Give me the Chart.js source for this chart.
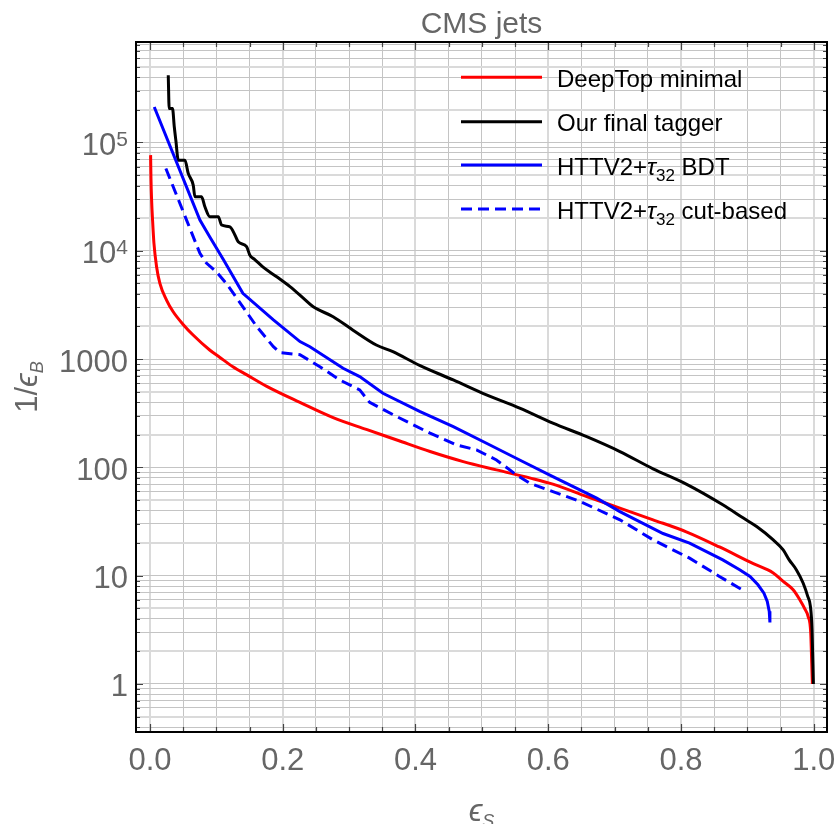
<!DOCTYPE html>
<html><head><meta charset="utf-8">
<script src="https://cdn.jsdelivr.net/npm/chart.js@4"></script>
<style>html,body{margin:0;padding:0;background:#fff}canvas{display:block}</style>
</head><body>
<canvas id="c" width="839" height="824"></canvas>
<script>
// ---- data (signal efficiency eps_S, background rejection 1/eps_B) ----
const deepTopX = [0.001, 0.0015, 0.0025, 0.004, 0.006, 0.010, 0.015, 0.025, 0.035, 0.050, 0.065, 0.090, 0.105, 0.125, 0.146, 0.176, 0.226, 0.276, 0.326, 0.372, 0.422, 0.472, 0.522, 0.572, 0.607, 0.658, 0.708, 0.758, 0.808, 0.858, 0.909, 0.939, 0.954, 0.969, 0.979, 0.986, 0.9915, 0.9955, 0.997, 0.998];
const deepTopY = [76400, 48000, 29400, 19000, 11800, 7130, 5000, 3510, 2735, 2090, 1667, 1213, 1040, 850, 715, 560, 398, 288, 224, 179, 140, 113, 94.8, 80, 70, 53.8, 42.1, 32.8, 25.4, 18.4, 12.9, 10.6, 8.85, 7.41, 6.0, 5.02, 4.2, 2.95, 1.56, 1];

const finalX = [0.0276, 0.029, 0.034, 0.0367, 0.039, 0.0427, 0.0527, 0.0577, 0.0652, 0.0678, 0.0778, 0.0828, 0.0904, 0.1029, 0.108, 0.1205, 0.128, 0.133, 0.1456, 0.1506, 0.158, 0.17, 0.191, 0.211, 0.231, 0.246, 0.276, 0.306, 0.341, 0.366, 0.407, 0.457, 0.507, 0.557, 0.607, 0.658, 0.708, 0.758, 0.808, 0.863, 0.894, 0.914, 0.939, 0.954, 0.963, 0.974, 0.984, 0.991, 0.995, 0.9975, 0.9995];
const finalY = [417000, 206000, 206000, 139000, 105000, 68700, 68700, 51800, 40400, 31500, 31500, 25500, 20600, 20600, 17300, 16600, 14000, 12100, 10900, 9100, 8300, 7100, 5750, 4660, 3650, 3040, 2460, 1850, 1350, 1170, 871, 641, 467, 352, 256, 192, 140, 97, 70, 45.1, 34, 28.4, 21.4, 17.3, 14.0, 11.3, 8.55, 6.43, 5.2, 3.17, 1];

const bdtX = [0.0065, 0.0753, 0.09, 0.111, 0.14, 0.186, 0.226, 0.241, 0.291, 0.316, 0.351, 0.407, 0.457, 0.507, 0.557, 0.607, 0.673, 0.708, 0.773, 0.813, 0.863, 0.889, 0.904, 0.916, 0.925, 0.930, 0.933, 0.934];
const bdtY = [212800, 19190, 13500, 8220, 4050, 2300, 1450, 1300, 822, 689, 483, 327, 238, 167, 117, 82, 52, 39, 24.5, 20.0, 14.0, 11.3, 9.84, 8.24, 6.9, 5.78, 4.68, 3.7];

const cutX = [0.024, 0.0753, 0.085, 0.100, 0.115, 0.14, 0.161, 0.186, 0.196, 0.226, 0.256, 0.286, 0.316, 0.331, 0.372, 0.422, 0.462, 0.492, 0.522, 0.552, 0.572, 0.607, 0.648, 0.708, 0.758, 0.813, 0.858, 0.894];
const cutY = [57500, 9460, 7700, 6400, 5000, 3040, 1990, 1300, 1146, 1096, 851, 641, 519, 398, 294, 207, 161, 145, 117, 85.3, 71.4, 59.8, 48.4, 32.8, 21.4, 14.5, 9.84, 7.3];

const seriesLabels = ['DeepTop minimal', 'Our final tagger', 'HTTV2+τ32 BDT', 'HTTV2+τ32 cut-based'];

const xGridValues = [0, 0.05, 0.1, 0.15, 0.2, 0.25, 0.3, 0.35, 0.4, 0.45, 0.5, 0.55, 0.6, 0.65, 0.7, 0.75, 0.8, 0.85, 0.9, 0.95, 1.0];
const xLabelValues = [0, 0.2, 0.4, 0.6, 0.8, 1.0];
const xLabels = ['0.0', '0.2', '0.4', '0.6', '0.8', '1.0'];
const yLabelValues = [1, 10, 100, 1000, 1e4, 1e5];
const yLabels = ['1', '10', '100', '1000', '10^4', '10^5'];
const yDecades = [0.1, 1, 10, 100, 1000, 1e4, 1e5];
const yMantissas = [1, 2, 3, 4, 5, 6, 7, 8, 9];

const yGridValues = [];
yDecades.forEach(d => yMantissas.forEach(m => { const v = +(m * d).toPrecision(3); if (v >= 0.36 && v <= 8.47e5) yGridValues.push(v); }));

const FONT = '"Liberation Sans", Arimo, Arial, "DejaVu Sans", sans-serif';
const GREY = '#666666';
const pts = (xs, ys) => xs.map((x, i) => ({ x: x, y: ys[i] }));
const isMajorX = v => Math.abs(v * 5 - Math.round(v * 5)) < 1e-6;
const isDecade = v => Math.abs(Math.log10(v) - Math.round(Math.log10(v))) < 1e-6;
const mant = v => Math.round(v / Math.pow(10, Math.floor(Math.log10(v) + 1e-9)));

function richWidth(ctx, parts) {
  let w = 0;
  parts.forEach(p => { ctx.font = p.f; w += ctx.measureText(p.t).width; });
  return w;
}
function drawRich(ctx, parts, x, y) {
  let cx = x;
  parts.forEach(p => { ctx.font = p.f; ctx.fillText(p.t, cx, y + (p.dy || 0)); cx += ctx.measureText(p.t).width; });
}
function labelParts(label, size) {
  const i = label.indexOf('τ32');
  if (i < 0) return [{ t: label, f: size + 'px ' + FONT }];
  return [
    { t: label.slice(0, i), f: size + 'px ' + FONT },
    { t: 'τ', f: 'italic ' + size + 'px ' + FONT },
    { t: '32', f: Math.round(size * 0.72) + 'px ' + FONT, dy: 6 },
    { t: label.slice(i + 3), f: size + 'px ' + FONT }
  ];
}

const framePlugin = {
  id: 'frame',
  afterDraw(chart) {
    const { ctx, chartArea: a, scales } = chart;
    const xs = scales.x, ys = scales.y;
    ctx.save();
    // inward tick marks on all four sides
    ctx.strokeStyle = '#444'; ctx.lineWidth = 1.2;
    xGridValues.forEach(v => {
      const px = Math.round(xs.getPixelForValue(v)) + 0.5;
      const L = isMajorX(v) ? 8 : 5;
      ctx.beginPath(); ctx.moveTo(px, a.bottom); ctx.lineTo(px, a.bottom - L);
      ctx.moveTo(px, a.top); ctx.lineTo(px, a.top + L); ctx.stroke();
    });
    yGridValues.forEach(v => {
      const py = Math.round(ys.getPixelForValue(v)) + 0.5;
      const L = isDecade(v) ? 7 : 4;
      ctx.beginPath(); ctx.moveTo(a.left, py); ctx.lineTo(a.left + L, py);
      ctx.moveTo(a.right, py); ctx.lineTo(a.right - L, py); ctx.stroke();
    });
    // frame
    ctx.strokeStyle = '#000'; ctx.lineWidth = 2;
    ctx.strokeRect(a.left, a.top, a.right - a.left, a.bottom - a.top);

    // tick labels
    ctx.fillStyle = GREY; ctx.textBaseline = 'alphabetic';
    ctx.font = '31px ' + FONT; ctx.textAlign = 'center';
    xLabelValues.forEach((v, i) => ctx.fillText(xLabels[i], xs.getPixelForValue(v), 770));
    ctx.textAlign = 'left';
    yLabelValues.forEach((v, i) => {
      const py = ys.getPixelForValue(v);
      const lab = yLabels[i];
      let parts;
      if (lab.indexOf('^') >= 0) {
        const [b, e] = lab.split('^');
        parts = [{ t: b, f: '31px ' + FONT, dy: 12.5 }, { t: e, f: '21px ' + FONT, dy: 3.5 }];
      } else parts = [{ t: lab, f: '31px ' + FONT, dy: 12.5 }];
      const w = richWidth(ctx, parts);
      drawRich(ctx, parts, 128 - w, py);
    });

    // title
    ctx.textAlign = 'center'; ctx.font = '30px ' + FONT;
    ctx.fillText('CMS jets', (a.left + a.right) / 2, 33);
    ctx.textAlign = 'left';

    // x axis title  eps_S
    const xt = [{ t: 'ϵ', f: 'italic 31px ' + FONT }, { t: 'S', f: 'italic 18px ' + FONT, dy: 6 }];
    drawRich(ctx, xt, (a.left + a.right) / 2 - richWidth(ctx, xt) / 2, 821);

    // y axis title 1/eps_B
    const yt = [{ t: '1/', f: '31px ' + FONT }, { t: 'ϵ', f: 'italic 31px ' + FONT }, { t: 'B', f: 'italic 18px ' + FONT, dy: 6 }];
    ctx.save();
    ctx.translate(37, (a.top + a.bottom) / 2);
    ctx.rotate(-Math.PI / 2);
    drawRich(ctx, yt, -richWidth(ctx, yt) / 2, 0);
    ctx.restore();

    // legend inside plot
    const rows = [77.3, 121.7, 165, 209];
    chart.data.datasets.forEach((ds, i) => {
      const y0 = rows[i];
      ctx.strokeStyle = ds.borderColor; ctx.lineWidth = 3;
      ctx.setLineDash(ds.borderDash || []);
      ctx.beginPath(); ctx.moveTo(461, y0); ctx.lineTo(542, y0); ctx.stroke();
      ctx.setLineDash([]);
      ctx.fillStyle = '#000';
      drawRich(ctx, labelParts(ds.label, 24), 557, y0 + 9.7);
    });
    ctx.restore();
  }
};

new Chart(document.getElementById('c').getContext('2d'), {
  type: 'line',
  data: {
    datasets: [
      { label: seriesLabels[0], data: pts(deepTopX, deepTopY), borderColor: '#ff0000', borderWidth: 3, pointRadius: 0, cubicInterpolationMode: 'monotone', fill: false, order: 3 },
      { label: seriesLabels[1], data: pts(finalX, finalY), borderColor: '#000000', borderWidth: 3, pointRadius: 0, cubicInterpolationMode: 'monotone', fill: false, order: 2 },
      { label: seriesLabels[2], data: pts(bdtX, bdtY), borderColor: '#0000ff', borderWidth: 3, pointRadius: 0, tension: 0, fill: false, order: 1 },
      { label: seriesLabels[3], data: pts(cutX, cutY), borderColor: '#0000ff', borderWidth: 3, borderDash: [11, 6], pointRadius: 0, tension: 0, fill: false, order: 0 }
    ]
  },
  options: {
    responsive: false, animation: false, devicePixelRatio: 1,
    layout: { padding: { left: 136, right: 12, top: 42, bottom: 92 } },
    plugins: { legend: { display: false }, title: { display: false }, tooltip: { enabled: false } },
    scales: {
      x: {
        type: 'linear', min: -0.021, max: 1.02,
        afterFit(s) { s.height = 0; },
        afterBuildTicks(s) { s.ticks = xGridValues.map(v => ({ value: v })); },
        ticks: { display: false },
        border: { display: false },
        grid: { drawTicks: false, color: c => isMajorX(c.tick.value) ? '#dadada' : '#c4c4c4', lineWidth: c => isMajorX(c.tick.value) ? 2 : 1 }
      },
      y: {
        type: 'logarithmic', min: 0.36, max: 8.47e5,
        afterFit(s) { s.width = 0; },
        afterBuildTicks(s) { s.ticks = yGridValues.map(v => ({ value: v })); },
        ticks: { display: false },
        border: { display: false },
        grid: { drawTicks: false, color: c => (!isDecade(c.tick.value) && [2, 5].includes(mant(c.tick.value))) ? '#dadada' : '#c4c4c4', lineWidth: c => (!isDecade(c.tick.value) && [2, 5].includes(mant(c.tick.value))) ? 2 : 1 }
      }
    }
  },
  plugins: [framePlugin]
});
</script>
</body></html>
